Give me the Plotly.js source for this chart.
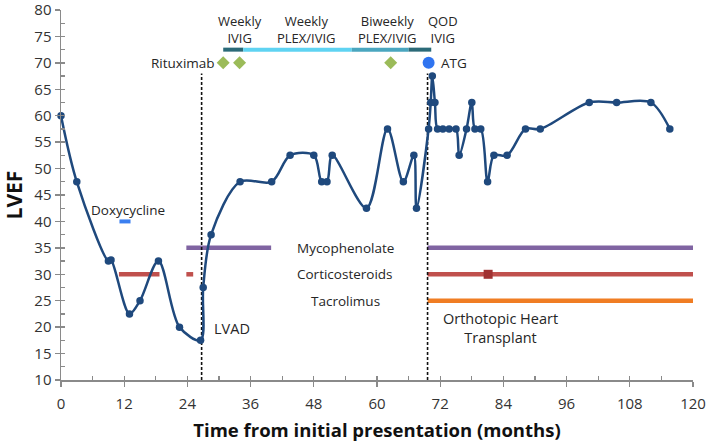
<!DOCTYPE html>
<html>
<head>
<meta charset="utf-8">
<script src="https://cdn.plot.ly/plotly-3.0.1.min.js"></script>
<style>html,body{margin:0;padding:0;background:#fff;}#chart{width:709px;height:444px;}</style>
</head>
<body>
<div id="chart"></div>
<script>
// LVEF series
const months = [0,3,9,9.5,13,15,18.5,22.5,26.5,27,28.5,34,40,43.5,48,49.5,50.5,51.5,58,62,65,67,67.5,69.8,70.2,70.5,71,71.5,72.5,73.7,75,75.6,77,78,78.6,79.7,81,82.2,84.7,88.2,91,100.3,105.5,112,115.6];
const lvef = [60,47.5,32.5,32.7,22.5,25,32.5,20,17.5,27.5,37.5,47.5,47.5,52.5,52.5,47.5,47.5,52.5,42.5,57.5,47.5,52.5,42.5,57.5,62.5,67.5,62.5,57.5,57.5,57.5,57.5,52.5,57.5,62.5,57.5,57.5,47.5,52.5,52.5,57.5,57.5,62.5,62.5,62.5,57.5];

// medication periods (months) and their plotting level
const doxyX = [11.1, 13.2];           const doxyLevel = 40;
const mycoX = [23.8, 39.9, null, 69.6, 120]; const mycoLevel = 35;
const corticoX = [11.0, 18.7, null, 23.8, 25.1, null, 69.6, 120]; const corticoLevel = 30;
const corticoPulse = [81.1];
const tacroX = [69.6, 120];           const tacroLevel = 25;

// IVIG / PLEX periods
const ivigStart = [30.8, 34.6, 55.2, 66.0];
const ivigEnd   = [34.6, 55.2, 66.0, 70.3];
const ivigLabels = ["Weekly<br>IVIG", "Weekly<br>PLEX/IVIG", "Biweekly<br>PLEX/IVIG", "QOD<br>IVIG"];
const ivigLabelX = [34, 46.6, 62, 72.5];
const ivigLevel = 72.5;

// single-dose therapies
const rituximabX = [30.8, 33.9, 62.6];
const atgX = [69.8];
const doseLevel = 70;

// events
const eventX = [26.7, 69.6];
const eventLabels = ["LVAD", "Orthotopic Heart<br>Transplant"];

// axis ticks
const xTicks = [0,12,24,36,48,60,72,84,96,108,120];
const yTicks = [10,15,20,25,30,35,40,45,50,55,60,65,70,75,80];

function lev(xs, level){ return xs.map(v => v === null ? null : level); }

const ivigColors = ["#2b6a78", "#5fd3f2", "#4aa6bf", "#2b6a78"];
const traces = [];

// medication bars
traces.push({x: doxyX, y: lev(doxyX, doxyLevel), mode:'lines', line:{color:'#3b7ff0', width:4}});
traces.push({x: mycoX, y: lev(mycoX, mycoLevel), mode:'lines', line:{color:'#8064a2', width:4.5}, connectgaps:false});
traces.push({x: corticoX, y: lev(corticoX, corticoLevel), mode:'lines', line:{color:'#c0504d', width:4.5}, connectgaps:false});
traces.push({x: tacroX, y: lev(tacroX, tacroLevel), mode:'lines', line:{color:'#f07d23', width:4.5}});
traces.push({x: corticoPulse, y: lev(corticoPulse, corticoLevel), mode:'markers', marker:{symbol:'square', size:9, color:'#a03232'}});

// IVIG bars
for (let i = 0; i < ivigStart.length; i++) {
  traces.push({x:[ivigStart[i], ivigEnd[i]], y:[ivigLevel, ivigLevel], mode:'lines', line:{color:ivigColors[i], width:4}});
}
// Rituximab and ATG
traces.push({x: rituximabX, y: lev(rituximabX, doseLevel), mode:'markers', marker:{symbol:'diamond', size:10, color:'#9bbb59'}});
traces.push({x: atgX, y: lev(atgX, doseLevel), mode:'markers', marker:{symbol:'circle', size:12, color:'#2f74f0'}});

// event dashed lines
eventX.forEach(ex => {
  traces.push({x:[ex, ex], y:[10, 68], mode:'lines', line:{color:'#111', width:1.6, dash:'3px,2px'}});
});

// LVEF line
traces.push({x: months, y: lvef, mode:'lines+markers', cliponaxis:false, line:{color:'#1f497d', width:2.5, shape:'spline', smoothing:0.9}, marker:{size:7.5, color:'#1f497d'}});

// overlay axes for inner tick marks
traces.push({x: [], y: [], xaxis:'x2', yaxis:'y', mode:'markers'});
traces.push({x: [], y: [], xaxis:'x', yaxis:'y2', mode:'markers'});

const txt = '#262626';
const F = '"Open Sans", sans-serif';
const ann = [];
ann.push({x: 12.8, y: 42.2, text:'Doxycycline', showarrow:false, font:{size:13.5, color:txt, family:F}});
ann.push({x: 54, y: mycoLevel, text:'Mycophenolate', showarrow:false, font:{size:13.5, color:txt, family:F}});
ann.push({x: 54, y: corticoLevel, text:'Corticosteroids', showarrow:false, font:{size:13.5, color:txt, family:F}});
ann.push({x: 54, y: tacroLevel, text:'Tacrolimus', showarrow:false, font:{size:13.5, color:txt, family:F}});
ann.push({x: 29.6, y: doseLevel, text:'Rituximab', showarrow:false, xanchor:'right', font:{size:13.5, color:txt, family:F}});
ann.push({x: 71.8, y: doseLevel, text:'ATG', showarrow:false, xanchor:'left', font:{size:13.5, color:txt, family:F}});
for (let i = 0; i < ivigLabelX.length; i++) {
  ann.push({x: ivigLabelX[i], y: 76.3, text: ivigLabels[i], showarrow:false, borderpad:0, font:{size:13, color:txt, family:F}});
}
ann.push({x: 32.4, y: 19.7, text: eventLabels[0], showarrow:false, font:{size:14.5, color:txt, family:F}});
ann.push({x: 83.4, y: 19.9, text: eventLabels[1], showarrow:false, font:{size:14.5, color:txt, family:F}});

const axColor = '#8a8a8a';
const layout = {
  width: 709, height: 444,
  margin: {l:61, r:16, t:10, b:64},
  paper_bgcolor:'#fff', plot_bgcolor:'#fff',
  showlegend:false,
  hovermode:false,
  font:{family:F, color:txt},
  xaxis: {
    range:[0,120], tickvals:xTicks, ticks:'outside', ticklen:5, tickwidth:1.3, tickcolor:axColor,
    showline:true, linecolor:axColor, linewidth:1.5, showgrid:false, zeroline:false,
    ticklabelstandoff:4, ticklabeloverflow:'allow',
    tickfont:{size:15, color:'#333', family:F},
    title:{text:'<b>Time from initial presentation (months)</b>', font:{size:18.5, color:'#111', family:F}, standoff:12}
  },
  xaxis2: {
    overlaying:'x', anchor:'y', side:'bottom', range:[0,120], tick0:0, dtick:6, ticks:'inside', ticklen:4,
    tickwidth:1.3, tickcolor:axColor, showticklabels:false, showline:false, showgrid:false, zeroline:false
  },
  yaxis: {
    range:[10,80], tickvals:yTicks, ticks:'outside', ticklen:5, tickwidth:1.3, tickcolor:axColor,
    showline:true, linecolor:axColor, linewidth:1.5, showgrid:false, zeroline:false,
    ticklabeloverflow:'allow',
    tickfont:{size:15, color:'#333', family:F},
    title:{text:'<b>LVEF</b>', font:{size:21, color:'#111', family:F}, standoff:8}
  },
  yaxis2: {
    overlaying:'y', anchor:'x', side:'left', range:[10,80], tick0:10, dtick:2.5, ticks:'inside', ticklen:4,
    tickwidth:1.3, tickcolor:axColor, showticklabels:false, showline:false, showgrid:false, zeroline:false
  },
  annotations: ann
};

Plotly.newPlot('chart', traces, layout, {staticPlot:true, displayModeBar:false});
</script>
</body>
</html>
